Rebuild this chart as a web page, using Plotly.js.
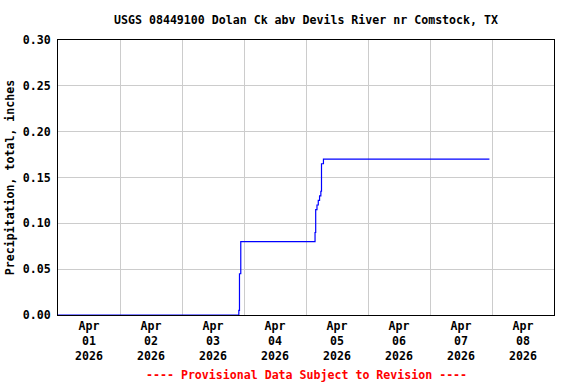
<!DOCTYPE html>
<html>
<head>
<meta charset="utf-8">
<script src="https://cdn.plot.ly/plotly-3.0.1.min.js"></script>
<style>html,body{margin:0;padding:0;background:#fff;}#chart{width:576px;height:384px;}</style>
</head>
<body>
<div id="chart"></div>
<script>
// Data (cumulative precipitation, inches)
const times = [
  '2026-04-01 00:00', '2026-04-03 21:45', '2026-04-03 22:00', '2026-04-03 22:15', '2026-04-03 22:45',
  '2026-04-05 03:15', '2026-04-05 03:30', '2026-04-05 03:45', '2026-04-05 04:15', '2026-04-05 04:45',
  '2026-04-05 05:15', '2026-04-05 05:45', '2026-04-05 06:00', '2026-04-05 06:45', '2026-04-07 23:00'
];
const precip = [
  0.00, 0.00, 0.005, 0.045, 0.08,
  0.08, 0.09, 0.115, 0.12, 0.125,
  0.13, 0.135, 0.165, 0.17, 0.17
];
const tickDates = ['2026-04-01 12:00','2026-04-02 12:00','2026-04-03 12:00','2026-04-04 12:00',
                   '2026-04-05 12:00','2026-04-06 12:00','2026-04-07 12:00','2026-04-08 12:00'];
const tickLabels = ['Apr<br>01<br>2026','Apr<br>02<br>2026','Apr<br>03<br>2026','Apr<br>04<br>2026',
                    'Apr<br>05<br>2026','Apr<br>06<br>2026','Apr<br>07<br>2026','Apr<br>08<br>2026'];
const yTicks = [0, 0.05, 0.10, 0.15, 0.20, 0.25, 0.30];
const yLabels = ['0.00','0.05','0.10','0.15','0.20','0.25','0.30'];
const titleText = 'USGS 08449100 Dolan Ck abv Devils River nr Comstock, TX';
const yTitle = 'Precipitation, total, inches';
const caption = '---- Provisional Data Subject to Revision ----';

const FONT = {family: '"DejaVu Sans Mono", "Liberation Mono", monospace', size: 11.6, color: '#000', weight: 'bold'};

const trace = {
  x: times, y: precip, type: 'scatter', mode: 'lines',
  line: {color: '#0000ff', width: 1.2, shape: 'hv'},
  hoverinfo: 'skip', showlegend: false
};

const layout = {
  width: 576, height: 384,
  margin: {l: 58, r: 22, t: 40, b: 69},
  paper_bgcolor: '#ffffff', plot_bgcolor: '#ffffff',
  font: FONT,
  title: {text: titleText, font: FONT, x: 0.5, xanchor: 'center', y: 0.948, yanchor: 'middle', xref: 'paper'},
  xaxis: {
    type: 'date', range: ['2026-04-01 00:00', '2026-04-09 00:00'],
    tickmode: 'array', tickvals: tickDates, ticktext: tickLabels,
    ticks: '', showgrid: false, zeroline: false,
    showline: true, linecolor: '#000', linewidth: 1, mirror: true,
    tickfont: FONT,
    minor: {tick0: '2026-04-01 00:00', dtick: 86400000, showgrid: true, gridcolor: '#cccccc', gridwidth: 1, ticks: ''}
  },
  yaxis: {
    range: [0, 0.30], tickmode: 'array', tickvals: yTicks, ticktext: yLabels,
    ticks: '', showgrid: true, gridcolor: '#cccccc', gridwidth: 1, zeroline: false,
    showline: true, linecolor: '#000', linewidth: 1, mirror: true,
    tickfont: FONT, ticklabelstandoff: 4,
    title: {text: yTitle, font: FONT, standoff: 5}
  },
  annotations: [{
    text: caption, xref: 'paper', yref: 'paper', x: 0.5, y: -0.218, xanchor: 'center', yanchor: 'middle',
    showarrow: false, font: {family: FONT.family, size: 11.6, color: '#ff0000', weight: 'bold'}
  }]
};

Plotly.newPlot('chart', [trace], layout, {staticPlot: true, displayModeBar: false});
</script>
</body>
</html>
